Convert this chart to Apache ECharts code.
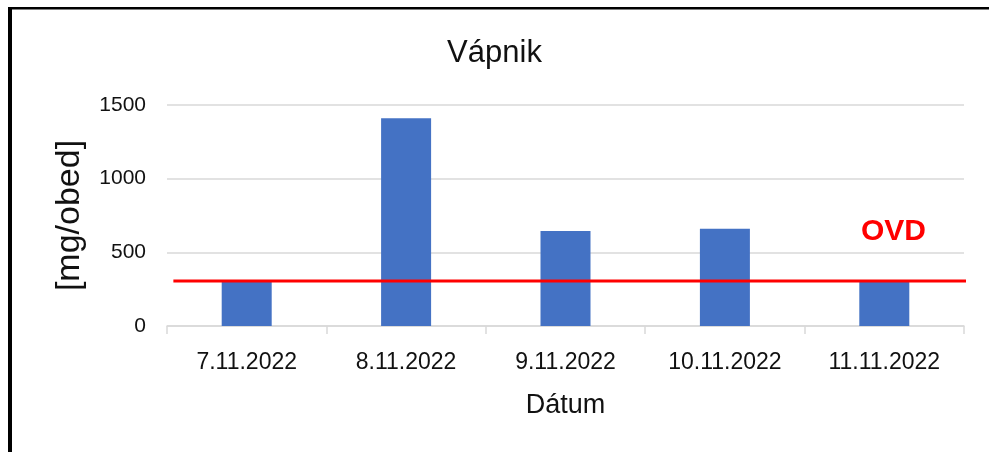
<!DOCTYPE html>
<html>
<head>
<meta charset="utf-8">
<script src="https://cdn.jsdelivr.net/npm/echarts@6/dist/echarts.min.js"></script>
<style>
html,body{margin:0;padding:0;background:#fff;}
#chart{width:989px;height:452px;}
</style>
</head>
<body>
<div id="chart"></div>
<script>
var categories = ['7.11.2022', '8.11.2022', '9.11.2022', '10.11.2022', '11.11.2022'];
var values = [300, 1410, 645, 660, 300];
var ovdValue = 305;
var ovdX = [0.04, 5.04];
var yTicks = [0, 500, 1000, 1500];

var chart = echarts.init(document.getElementById('chart'));
var font = 'Liberation Sans, Arial, sans-serif';
chart.setOption({
  animation: false,
  backgroundColor: '#fff',
  title: {
    text: 'Vápnik', left: 'center', top: 33,
    textStyle: { fontFamily: font, fontSize: 31, fontWeight: 'normal', color: '#111' }
  },
  grid: { left: 167, right: 25, top: 105, bottom: 126, containLabel: false },
  xAxis: [{
    type: 'category', data: categories,
    axisLine: { lineStyle: { color: '#d9d9d9', width: 1.5 } },
    axisTick: { show: true, length: 8, lineStyle: { color: '#d9d9d9', width: 1.5 } },
    axisLabel: { fontFamily: font, fontSize: 23, color: '#111', margin: 25 },
    name: 'Dátum', nameLocation: 'middle', nameGap: 66,
    nameTextStyle: { fontFamily: font, fontSize: 27, color: '#111' }
  }, {
    type: 'value', min: 0, max: 5, show: false
  }],
  yAxis: {
    type: 'value', min: yTicks[0], max: yTicks[yTicks.length - 1], interval: 500,
    axisLine: { show: false }, axisTick: { show: false },
    splitLine: { lineStyle: { color: '#d9d9d9', width: 1.5 } },
    axisLabel: { fontFamily: font, fontSize: 21, color: '#111', margin: 21, formatter: function (v) { return String(v); } },
    name: '[mg/obed]', nameLocation: 'middle', nameGap: 80, nameRotate: 90,
    nameTextStyle: { fontFamily: font, fontSize: 34, color: '#111' }
  },
  series: [{
    type: 'bar', data: values, barWidth: 50,
    itemStyle: { color: '#4472C4' }
  }, {
    type: 'line', xAxisIndex: 1, clip: false, symbol: 'none', z: 5,
    data: [[ovdX[0], ovdValue], [ovdX[1], ovdValue]],
    lineStyle: { color: '#ff0000', width: 3 }
  }],
  graphic: [
    { type: 'text', left: 861, top: 217, style: { text: 'OVD', fill: '#ff0000', font: 'bold 30px Liberation Sans, Arial, sans-serif' } },
    { type: 'rect', shape: { x: 8, y: 7, width: 4, height: 445 }, style: { fill: '#000' } },
    { type: 'rect', shape: { x: 8, y: 7, width: 981, height: 2.5 }, style: { fill: '#000' } }
  ]
});
</script>
</body>
</html>
